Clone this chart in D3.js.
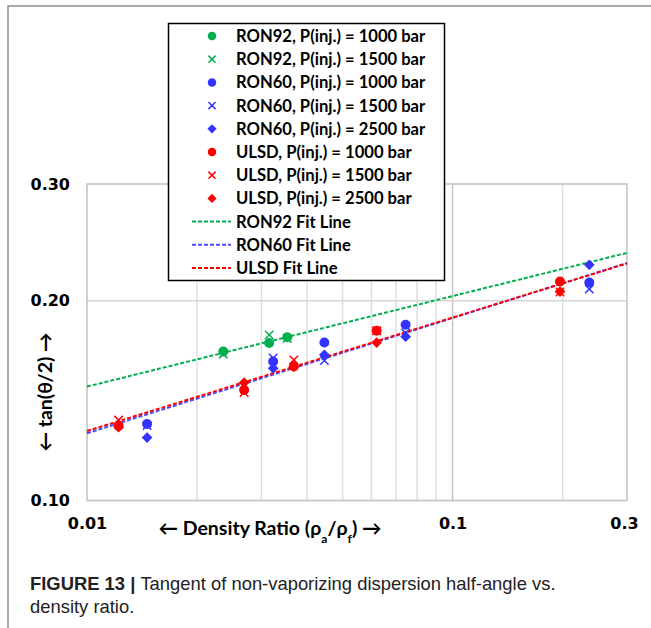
<!DOCTYPE html>
<html>
<head>
<meta charset="utf-8">
<script src="https://cdn.jsdelivr.net/npm/d3@7"></script>
<style>
  body { margin: 0; background: #fff; }
  svg { display: block; }
</style>
</head>
<body>
<script>
// data (density ratio, tan(theta/2))
const ron92_1000 = [[0.0236, 0.1677], [0.0315, 0.1727], [0.0353, 0.1762]];
const ron92_1500 = [[0.0236, 0.1662], [0.0315, 0.1777], [0.0353, 0.1755]];
const ron60_1000 = [[0.0146, 0.1304], [0.0323, 0.1620], [0.0446, 0.1730], [0.0744, 0.1840], [0.2366, 0.2131]];
const ron60_1500 = [[0.0146, 0.1297], [0.0323, 0.1640], [0.0446, 0.1625], [0.0744, 0.1789], [0.2366, 0.2083]];
const ron60_2500 = [[0.0146, 0.1244], [0.0323, 0.1582], [0.0446, 0.1658], [0.0744, 0.1766], [0.2366, 0.2266]];
const ulsd_1000 = [[0.0122, 0.1296], [0.0269, 0.1468], [0.0368, 0.1592], [0.0620, 0.1802], [0.1967, 0.2138]];
const ulsd_1500 = [[0.0122, 0.1322], [0.0269, 0.1455], [0.0368, 0.1629], [0.0620, 0.1802], [0.1967, 0.2062]];
const ulsd_2500 = [[0.0122, 0.1290], [0.0269, 0.1505], [0.0368, 0.1592], [0.0620, 0.1730], [0.1967, 0.2065]];

// fit lines, end values at x = 0.01 and 0.3
const fitX = [0.01, 0.3];
const ron92Fit = [0.1485, 0.2362];
const ron60Fit = [0.1263, 0.2280];
const ulsdFit = [0.1273, 0.2277];

const xGrid = [0.01, 0.02, 0.03, 0.04, 0.05, 0.06, 0.07, 0.08, 0.09, 0.1, 0.2, 0.3];
const yGrid = [0.1, 0.2, 0.3];
const xTickLabels = [0.01, 0.1, 0.3];
const yTickLabels = [0.1, 0.2, 0.3];

const legendLabels = [
  "RON92, P(inj.) = 1000 bar", "RON92, P(inj.) = 1500 bar",
  "RON60, P(inj.) = 1000 bar", "RON60, P(inj.) = 1500 bar", "RON60, P(inj.) = 2500 bar",
  "ULSD, P(inj.) = 1000 bar", "ULSD, P(inj.) = 1500 bar", "ULSD, P(inj.) = 2500 bar",
  "RON92 Fit Line", "RON60 Fit Line", "ULSD Fit Line"
];

const GREEN = "#00b050", BLUE = "#3333ff", RED = "#ff0000";

const series = [
  { data: ron92_1000, color: GREEN, shape: "circle" },
  { data: ron92_1500, color: GREEN, shape: "x" },
  { data: ron60_1000, color: BLUE, shape: "circle" },
  { data: ron60_1500, color: BLUE, shape: "x" },
  { data: ron60_2500, color: BLUE, shape: "diamond" },
  { data: ulsd_1000, color: RED, shape: "circle" },
  { data: ulsd_1500, color: RED, shape: "x" },
  { data: ulsd_2500, color: RED, shape: "diamond" }
];
const fits = [
  { data: ron92Fit, color: GREEN },
  { data: ron60Fit, color: "#4a4aff" },
  { data: ulsdFit, color: RED }
];

const W = 651, H = 628;
const plot = { left: 87, right: 627, top: 184, bottom: 500.5 };

const svg = d3.select("body").append("svg")
  .attr("width", W)
  .attr("height", H);

// outer frame (left + top)
svg.append("path")
  .attr("d", `M8,${H} L8,6 L${W},6`)
  .attr("fill", "none")
  .attr("stroke", "#8c8c8c")
  .attr("stroke-width", 1.5);

const x = d3.scaleLog().domain([0.01, 0.3]).range([plot.left, plot.right]);
const y = d3.scaleLog().domain([0.1, 0.3]).range([plot.bottom, plot.top]);

// gridlines
svg.append("g").selectAll("line")
  .data(xGrid)
  .enter().append("line")
  .attr("x1", d => x(d)).attr("x2", d => x(d))
  .attr("y1", plot.top).attr("y2", plot.bottom)
  .attr("stroke", d => d === 0.1 ? "#c4c4c4" : "#dedede")
  .attr("stroke-width", 1.5);

svg.append("g").selectAll("line")
  .data(yGrid)
  .enter().append("line")
  .attr("x1", plot.left).attr("x2", plot.right)
  .attr("y1", d => y(d)).attr("y2", d => y(d))
  .attr("stroke", "#d6d6d6")
  .attr("stroke-width", 1.5);

svg.append("rect")
  .attr("x", plot.left).attr("y", plot.top)
  .attr("width", plot.right - plot.left)
  .attr("height", plot.bottom - plot.top)
  .attr("fill", "none")
  .attr("stroke", "#c8c8c8")
  .attr("stroke-width", 1.5);

// axes (labels only)
const yAxis = svg.append("g")
  .attr("transform", `translate(${plot.left},0)`)
  .call(d3.axisLeft(y).tickValues(yTickLabels).tickFormat(d3.format(".2f")).tickSize(0).tickPadding(17));
const xAxis = svg.append("g")
  .attr("transform", `translate(0,${plot.bottom})`)
  .call(d3.axisBottom(x).tickValues(xTickLabels).tickFormat(d => String(d)).tickSize(0).tickPadding(17));
[yAxis, xAxis].forEach(a => {
  a.select(".domain").remove();
  a.selectAll("text")
    .attr("fill", "#000")
    .style("font-family", "DejaVu Sans")
    .style("font-weight", "bold")
    .style("font-size", "16px");
});
xAxis.selectAll("text").filter(d => d === 0.3).attr("dx", -3);

// axis titles
const xt = svg.append("text")
  .attr("x", 270).attr("y", 535)
  .attr("text-anchor", "middle")
  .style("font-family", "Lato")
  .style("font-weight", "bold")
  .style("font-size", "19.5px");
xt.append("tspan").text("\u2190 Density Ratio (\u03c1");
xt.append("tspan").attr("baseline-shift", "sub").style("font-size", "12px").text("a");
xt.append("tspan").text("/\u03c1");
xt.append("tspan").attr("baseline-shift", "sub").style("font-size", "12px").text("f");
xt.append("tspan").text(") \u2192");

svg.append("text")
  .attr("transform", "translate(52,392) rotate(-90)")
  .attr("text-anchor", "middle")
  .style("font-family", "Lato")
  .style("font-weight", "bold")
  .style("font-size", "19.5px")
  .text("\u2190 tan(\u03b8/2) \u2192");

// fit lines
const line = d3.line()
  .x((d, i) => x(fitX[i]))
  .y(d => y(d));
svg.append("g").selectAll("path")
  .data(fits)
  .enter().append("path")
  .attr("d", d => line(d.data))
  .attr("fill", "none")
  .attr("stroke", d => d.color)
  .attr("stroke-width", 2)
  .attr("stroke-dasharray", "4,2");

// markers
function marker(sel, shape, color, s) {
  s = s || 1;
  if (shape === "circle") {
    sel.append("path").attr("d", d3.symbol(d3.symbolCircle, 78 * s * s)()).attr("fill", color);
  } else if (shape === "diamond") {
    sel.append("path").attr("d", d3.symbol(d3.symbolSquare, 58 * s * s)())
      .attr("transform", "rotate(45)").attr("fill", color);
  } else {
    sel.append("path").attr("d", d3.symbol(d3.symbolX, 48 * s * s)())
      .attr("fill", "none").attr("stroke", color).attr("stroke-width", 1.5);
  }
}

series.forEach(sr => {
  svg.append("g").selectAll("g")
    .data(sr.data)
    .enter().append("g")
    .attr("transform", d => `translate(${x(d[0])},${y(d[1])})`)
    .each(function () { marker(d3.select(this), sr.shape, sr.color); });
});

// legend
const lg = svg.append("g");
lg.append("rect")
  .attr("x", 168.5).attr("y", 23.5)
  .attr("width", 276).attr("height", 257)
  .attr("fill", "#fff")
  .attr("stroke", "#000")
  .attr("stroke-width", 1.5);

const rowY = i => 36 + i * 23.2;
const items = lg.selectAll("g.item")
  .data(legendLabels)
  .enter().append("g")
  .attr("class", "item")
  .attr("transform", (d, i) => `translate(0,${rowY(i)})`);

items.each(function (d, i) {
  const g = d3.select(this);
  if (i < series.length) {
    const m = g.append("g").attr("transform", "translate(212,0)");
    marker(m, series[i].shape, series[i].color, 0.85);
  } else {
    g.append("line")
      .attr("x1", 192).attr("x2", 231)
      .attr("stroke", fits[i - series.length].color)
      .attr("stroke-width", 2)
      .attr("stroke-dasharray", "4,2");
  }
});

items.append("text")
  .attr("x", 236)
  .attr("dy", "0.36em")
  .style("font-family", "Lato")
  .style("font-weight", "bold")
  .style("font-size", "16.6px")
  .text(d => d);

// caption
const cap = svg.append("text")
  .attr("x", 30).attr("y", 590)
  .style("font-family", "Liberation Sans")
  .style("font-size", "18.4px")
  .attr("fill", "#222");
cap.append("tspan").style("font-weight", "bold").text("FIGURE 13 | ");
cap.append("tspan").text("Tangent of non-vaporizing dispersion half-angle vs.");
svg.append("text")
  .attr("x", 30).attr("y", 613)
  .style("font-family", "Liberation Sans")
  .style("font-size", "18.4px")
  .attr("fill", "#222")
  .text("density ratio.");
</script>
</body>
</html>
